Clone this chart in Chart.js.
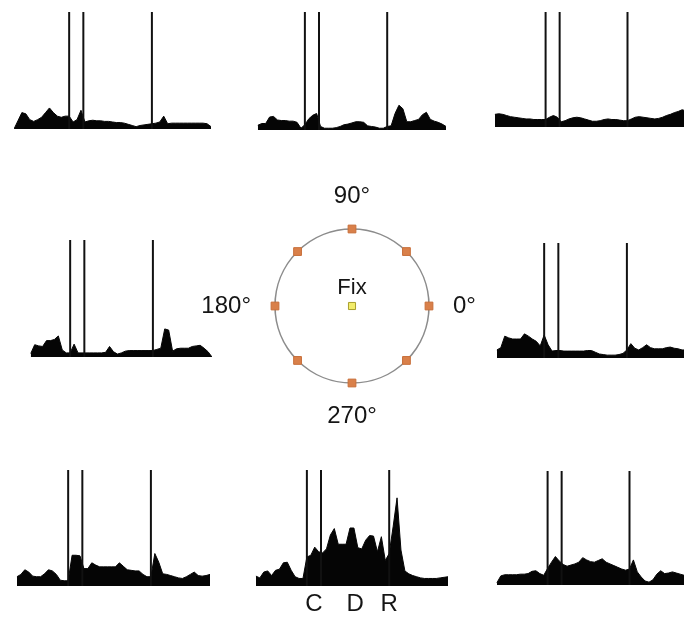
<!DOCTYPE html>
<html>
<head>
<meta charset="utf-8">
<script src="https://cdn.jsdelivr.net/npm/chart.js@4.4.0/dist/chart.umd.min.js"></script>
<style>
  html, body { margin: 0; padding: 0; background: #fff; }
  body { width: 684px; height: 619px; position: relative; overflow: hidden; }
  canvas { position: absolute; }
</style>
</head>
<body>
<script>
// bin times in ms relative to cue onset (50 ms bins)
const TIMES = [-700, -650, -600, -550, -500, -450, -400, -350, -300, -250,
  -200, -150, -100, -50, 0, 50, 100, 150, 200, 250,
  300, 350, 400, 450, 500, 550, 600, 650, 700, 750,
  800, 850, 900, 950, 1000, 1050, 1100, 1150, 1200, 1250,
  1300, 1350, 1400, 1450, 1500, 1550, 1600, 1650, 1700, 1750,
  1800];

// task events: cue on, cue off / delay start, response
const EVENT_TIMES = [0, 180, 1050];
const EPOCH_LABELS = ['C', 'D', 'R'];
const EPOCH_LABEL_TIMES = [90, 615, 1050];

// firing rate (spikes/s) for each target direction
const RATE_135 = [0, 7, 14, 13, 8, 6.5, 8, 10, 14, 18,
  14, 11, 10, 11, 11, 6, 8, 16, 6, 7,
  7.5, 7, 7, 6.5, 6.5, 6, 5.5, 5.5, 5, 4,
  3, 2, 3, 3.5, 4, 4.5, 5, 6, 11, 4.5,
  5, 5, 5, 5, 5, 5, 5, 5, 5, 4.5,
  2];
const RATE_90 = [null, null, 4, 5.5, 5.5, 11, 11.5, 8.5, 8, 8,
  7.5, 7.5, 6.5, 1.5, 4.5, 9.5, 12.5, 14, 3, 1.5,
  1.5, 1.5, 2, 3, 4.5, 5, 6, 7, 7, 6.5,
  3.5, 3, 2.5, 1.5, 1.5, 3, 3.5, 14, 21, 18,
  7, 7, 8, 9, 13, 15, 9, 7.5, 6.5, 5,
  3];
const RATE_45 = [null, 11, 11.5, 11, 10, 9, 8.5, 8, 7.5, 7,
  7, 6.5, 6.5, 6.5, 6.5, 8.5, 10, 8.5, 4.5, 5.5,
  7, 8, 8.5, 8, 7, 6, 5, 5, 5.5, 6.5,
  7, 6.5, 6.5, 6, 5.5, 5.5, 7, 8.5, 9, 8.5,
  8, 7.5, 7, 7.5, 8.5, 10, 11, 12.5, 13.5, 15,
  14];
const RATE_180 = [null, null, null, null, 3, 10.5, 9.5, 9, 14, 14,
  15, 18, 6, 3.5, 3.5, 11, 3.5, 3.5, 3.5, 3.5,
  3.5, 3.5, 3.5, 4, 9, 4.5, 2.5, 3.5, 5, 5.5,
  5.5, 5.5, 5.5, 5.5, 5.5, 5.5, 6.5, 7.5, 24, 23,
  5, 7, 7.5, 7.5, 7.5, 9, 9.5, 10, 7.5, 4.5,
  0];
const RATE_0 = [null, null, 7, 9, 19, 17.5, 16.5, 16.5, 16.5, 21,
  19, 16.5, 14.5, 10.5, 20, 11.5, 6, 6.5, 6.5, 6,
  6, 6, 6, 6, 6, 6.5, 6.5, 5, 3.5, 3,
  2.5, 2.5, 2.5, 3, 4, 7, 12.5, 8.5, 7, 9,
  11.5, 9, 8, 8, 8, 9, 9.5, 8.5, 8, 7,
  7];
const RATE_225 = [null, 8, 10, 14, 12, 8.5, 8, 8, 10.5, 14,
  13, 10, 5, 4.5, 4.5, 26.5, 26.5, 26, 15, 15,
  20, 18, 16.5, 16.5, 16.5, 16.5, 16.5, 20, 17, 14,
  13.5, 13, 13, 10, 8, 8, 28, 20.5, 10.5, 10,
  9, 8, 7, 6.5, 8, 10, 12, 9, 8.5, 9,
  10];
const RATE_270 = [null, 8.5, 7, 12, 13, 9, 13.5, 14.5, 20, 20.5,
  13.5, 8, 6.5, 6.5, 25, 26.5, 33.5, 29.5, 28.5, 32,
  44, 49.5, 36, 36, 36, 50, 50, 33, 32, 39.5,
  43.5, 43, 29.5, 42.5, 22, 28, 51, 76, 31, 13,
  10.5, 9, 8, 7, 6.5, 6.5, 6.5, 6.5, 7, 7.5,
  8];
const RATE_315 = [null, 2, 8, 9, 9, 9, 9, 9.5, 9.5, 10,
  12, 12.5, 10, 8.5, 14.5, 20, 25, 21, 18, 16.5,
  17.5, 18.5, 20, 24, 22, 20.5, 20, 21.5, 23, 20,
  18.5, 17, 15.5, 14, 13, 14, 22, 11.5, 7, 3.5,
  2.5, 4.5, 9.5, 12.5, 10, 10.5, 11.5, 10.5, 9.5, 8.5,
  8];

// target layout: 8 peripheral targets on the ring, fixation in the middle
const ANGLE_LABELS = ['90°', '', '0°', '', '270°', '', '180°', ''];
const TARGET_ECC = [1, 1, 1, 1, 1, 1, 1, 1];
const FIX_ECC = [0, null, null, null, null, null, null, null];

const RATE_MAX = 100;
const FONT = '"Liberation Sans", Arial, Helvetica, sans-serif';

// where each histogram sits on the page
const PANELS = [
  { rates: RATE_135, left: 14,  top: 12,  width: 197, height: 117 },
  { rates: RATE_90,  left: 250, top: 12,  width: 196, height: 118 },
  { rates: RATE_45,  left: 491, top: 12,  width: 195, height: 115 },
  { rates: RATE_180, left: 15,  top: 240, width: 197, height: 117 },
  { rates: RATE_0,   left: 489, top: 243, width: 197, height: 115 },
  { rates: RATE_225, left: 13,  top: 470, width: 197, height: 116 },
  { rates: RATE_270, left: 252, top: 470, width: 196, height: 116, epochs: true },
  { rates: RATE_315, left: 493, top: 471, width: 195, height: 114 },
];

const eventLines = {
  id: 'eventLines',
  afterDatasetsDraw(chart) {
    const { ctx, scales: { x, y } } = chart;
    ctx.save();
    ctx.strokeStyle = '#111';
    ctx.lineWidth = 2;
    EVENT_TIMES.forEach(t => {
      const px = x.getPixelForValue(t);
      ctx.beginPath();
      ctx.moveTo(px, y.getPixelForValue(0));
      ctx.lineTo(px, y.getPixelForValue(y.max));
      ctx.stroke();
    });
    ctx.restore();
  }
};

const epochLabels = {
  id: 'epochLabels',
  afterDraw(chart) {
    const { ctx, chartArea, scales: { x } } = chart;
    ctx.save();
    ctx.fillStyle = '#151515';
    ctx.font = '24px ' + FONT;
    ctx.textAlign = 'center';
    ctx.textBaseline = 'middle';
    EPOCH_LABELS.forEach((label, i) => {
      ctx.fillText(label, x.getPixelForValue(EPOCH_LABEL_TIMES[i]), chartArea.bottom + 18);
    });
    ctx.restore();
  }
};

function makeCanvas(left, top, width, height) {
  const c = document.createElement('canvas');
  c.width = width;
  c.height = height;
  c.style.left = left + 'px';
  c.style.top = top + 'px';
  c.style.width = width + 'px';
  c.style.height = height + 'px';
  document.body.appendChild(c);
  return c;
}

PANELS.forEach(p => {
  const extra = p.epochs ? 34 : 0;
  const canvas = makeCanvas(p.left, p.top, p.width, p.height + extra);
  new Chart(canvas, {
    type: 'line',
    data: {
      datasets: [{
        data: TIMES.map((t, i) => ({ x: t, y: p.rates[i] })),
        borderColor: '#050505',
        backgroundColor: '#050505',
        borderWidth: 1,
        pointRadius: 0,
        tension: 0,
        fill: 'origin',
      }]
    },
    options: {
      responsive: false,
      animation: false,
      devicePixelRatio: 1,
      events: [],
      layout: { padding: { bottom: extra } },
      plugins: { legend: { display: false }, tooltip: { enabled: false } },
      scales: {
        x: { type: 'linear', min: TIMES[0], max: TIMES[TIMES.length - 1], display: false },
        y: { min: 0, max: RATE_MAX, display: false },
      },
    },
    plugins: p.epochs ? [eventLines, epochLabels] : [eventLines],
  });
});

// centre: target ring with direction labels
const dialLabels = {
  id: 'dialLabels',
  afterDraw(chart) {
    const r = chart.scales.r;
    const ctx = chart.ctx;
    const gap = 24;
    ctx.save();
    ctx.fillStyle = '#151515';
    ctx.font = '24px ' + FONT;
    ctx.textBaseline = 'middle';
    ANGLE_LABELS.forEach((label, i) => {
      if (!label) return;
      const p = r.getPointPosition(i, r.drawingArea + gap);
      const dx = p.x - r.xCenter, dy = p.y - r.yCenter;
      if (Math.abs(dx) < 1) {
        ctx.textAlign = 'center';
        ctx.fillText(label, p.x, p.y + Math.sign(dy) * 9);
      } else {
        ctx.textAlign = dx > 0 ? 'left' : 'right';
        ctx.fillText(label, p.x, p.y);
      }
    });
    ctx.font = '22px ' + FONT;
    ctx.textAlign = 'center';
    ctx.fillText('Fix', r.xCenter, r.yCenter - 18);
    ctx.restore();
  }
};

const dial = makeCanvas(200, 176, 304, 260);
new Chart(dial, {
  type: 'radar',
  data: {
    labels: ANGLE_LABELS,
    datasets: [
      {
        data: TARGET_ECC,
        showLine: false,
        fill: false,
        borderWidth: 0,
        pointStyle: 'rect',
        pointRadius: 5.5,
        pointBackgroundColor: '#d9804a',
        pointBorderColor: '#c86f3a',
        pointBorderWidth: 1,
      },
      {
        data: FIX_ECC,
        showLine: false,
        fill: false,
        borderWidth: 0,
        pointStyle: 'rect',
        pointRadius: 5,
        pointBackgroundColor: '#f2ec6a',
        pointBorderColor: '#a99f2c',
        pointBorderWidth: 1,
      },
    ]
  },
  options: {
    responsive: false,
    animation: false,
    devicePixelRatio: 1,
    events: [],
    layout: { padding: { left: 75, right: 75, top: 53, bottom: 53 } },
    plugins: { legend: { display: false }, tooltip: { enabled: false } },
    scales: {
      r: {
        min: 0,
        max: 1,
        ticks: { display: false, stepSize: 1 },
        grid: { circular: true, color: '#8c8c8c', lineWidth: 1.6 },
        angleLines: { display: false },
        pointLabels: { display: false },
      }
    }
  },
  plugins: [dialLabels],
});
</script>
</body>
</html>
